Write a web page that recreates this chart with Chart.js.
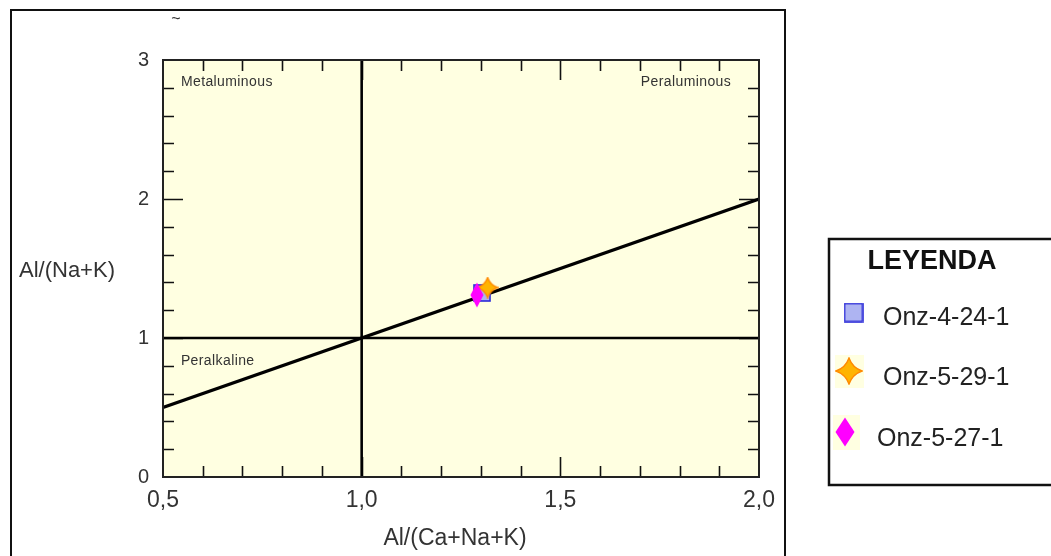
<!DOCTYPE html>
<html><head><meta charset="utf-8">
<script src="https://cdn.jsdelivr.net/npm/chart.js@4.4.1/dist/chart.umd.min.js"></script>
<style>html,body{margin:0;padding:0;background:#fff;overflow:hidden}canvas{display:block}</style>
</head><body>
<canvas id="c" width="1051" height="556"></canvas>
<script>
// ---- data ----
const seriesNames = ['Onz-4-24-1', 'Onz-5-29-1', 'Onz-5-27-1'];
const seriesX = [1.303, 1.317, 1.290];
const seriesY = [1.324, 1.363, 1.309];
const xTickValues = [0.5, 1.0, 1.5, 2.0];
const xTickLabels = ['0,5', '1,0', '1,5', '2,0'];
const yTickValues = [0, 1, 2, 3];
const yTickLabels = ['0', '1', '2', '3'];
const xMinorTicks = [0.6, 0.7, 0.8, 0.9, 1.1, 1.2, 1.3, 1.4, 1.6, 1.7, 1.8, 1.9];
const xMajorTicks = [1.0, 1.5];
const yMinorTicks = [0.2, 0.4, 0.6, 0.8, 1.2, 1.4, 1.6, 1.8, 2.2, 2.4, 2.6, 2.8];
const yMajorTicks = [1, 2];
const diagX = [0.5, 2.0], diagY = [0.5, 2.0];
const vertX = [1, 1], vertY = [0, 3];
const horizX = [0.5, 2.0], horizY = [1, 1];
const regionNames = ['Metaluminous', 'Peraluminous', 'Peralkaline'];
const xTitle = 'Al/(Ca+Na+K)';
const yTitle = 'Al/(Na+K)';
const legendTitle = 'LEYENDA';

const FONT = 'Arial, "Liberation Sans", sans-serif';

// ---- marker images ----
function mk(w, h, draw) {
  const c = document.createElement('canvas');
  c.width = w; c.height = h;
  draw(c.getContext('2d'), w, h);
  return c;
}
function squareImg(s) {
  return mk(s, s, (g, w, h) => {
    g.fillStyle = '#AEB4F2'; g.fillRect(1, 1, w - 2, h - 2);
    g.strokeStyle = '#2A2AD8'; g.lineWidth = 1.6; g.strokeRect(1, 1, w - 2, h - 2);
  });
}
function starImg(s) {
  return mk(s, s, (g, w, h) => {
    const cx = w / 2, cy = h / 2, R = w / 2 - 1, k = R * 0.26;
    g.beginPath();
    g.moveTo(cx, cy - R);
    g.quadraticCurveTo(cx + k, cy - k, cx + R, cy);
    g.quadraticCurveTo(cx + k, cy + k, cx, cy + R);
    g.quadraticCurveTo(cx - k, cy + k, cx - R, cy);
    g.quadraticCurveTo(cx - k, cy - k, cx, cy - R);
    g.closePath();
    g.fillStyle = '#FFB400'; g.fill();
    g.strokeStyle = '#FF8A00'; g.lineWidth = 1.4; g.stroke();
  });
}
function diamondImg(w0, h0) {
  return mk(w0, h0, (g, w, h) => {
    g.beginPath();
    g.moveTo(w / 2, 0.5); g.lineTo(w - 0.5, h / 2); g.lineTo(w / 2, h - 0.5); g.lineTo(0.5, h / 2);
    g.closePath();
    g.fillStyle = '#FF00FF'; g.fill();
  });
}
const plotMarkers = [squareImg(18), starImg(22), diamondImg(14, 26)];
const legendMarkers = [squareImg(20), starImg(28), diamondImg(20, 30)];

// ---- plugin for frame, ticks, texts, legend ----
const decor = {
  id: 'decor',
  beforeDraw(chart) {
    const { ctx, chartArea: a } = chart;
    ctx.save();
    ctx.fillStyle = '#FFFFE1';
    ctx.fillRect(a.left, a.top, a.right - a.left, a.bottom - a.top);
    ctx.restore();
  },
  beforeDatasetsDraw(chart) {
    const { ctx, chartArea: a, scales: { x, y } } = chart;
    ctx.save();
    ctx.strokeStyle = '#111'; ctx.lineWidth = 1.6;
    const tickX = (v, len) => {
      const px = Math.round(x.getPixelForValue(v)) + 0.5;
      ctx.beginPath();
      ctx.moveTo(px, a.bottom); ctx.lineTo(px, a.bottom - len);
      ctx.moveTo(px, a.top); ctx.lineTo(px, a.top + len);
      ctx.stroke();
    };
    const tickY = (v, len) => {
      const py = Math.round(y.getPixelForValue(v)) + 0.5;
      ctx.beginPath();
      ctx.moveTo(a.left, py); ctx.lineTo(a.left + len, py);
      ctx.moveTo(a.right, py); ctx.lineTo(a.right - len, py);
      ctx.stroke();
    };
    xMinorTicks.forEach(v => tickX(v, 11));
    xMajorTicks.forEach(v => tickX(v, 20));
    yMinorTicks.forEach(v => tickY(v, 11));
    yMajorTicks.forEach(v => tickY(v, 20));

    ctx.fillStyle = '#333';
    ctx.font = '14px ' + FONT;
    ctx.letterSpacing = '0.4px';
    ctx.textBaseline = 'middle';
    ctx.textAlign = 'left';
    ctx.fillText(regionNames[0], x.getPixelForValue(0.545), y.getPixelForValue(2.84));
    ctx.textAlign = 'right';
    ctx.fillText(regionNames[1], x.getPixelForValue(1.93), y.getPixelForValue(2.84));
    ctx.textAlign = 'left';
    ctx.fillText(regionNames[2], x.getPixelForValue(0.545), y.getPixelForValue(0.835));
    ctx.restore();
  },
  afterDatasetsDraw(chart) {
    const { ctx, chartArea: a } = chart;
    ctx.save();
    ctx.strokeStyle = '#222'; ctx.lineWidth = 2;
    ctx.strokeRect(a.left, a.top, a.right - a.left, a.bottom - a.top);
    ctx.restore();
  },
  afterDraw(chart) {
    const { ctx } = chart;
    ctx.save();
    // axis titles
    ctx.fillStyle = '#333';
    ctx.font = '23px ' + FONT;
    ctx.textBaseline = 'middle';
    ctx.textAlign = 'center';
    ctx.fillText(xTitle, 455, 539);
    ctx.font = '22px ' + FONT;
    ctx.textAlign = 'left';
    ctx.fillText(yTitle, 19, 271);
    ctx.font = '16px ' + FONT;
    ctx.textAlign = 'center';
    ctx.fillText('~', 176, 20);

    // outer frame
    ctx.strokeStyle = '#111'; ctx.lineWidth = 2;
    ctx.strokeRect(11, 10, 774, 600);

    // legend box
    ctx.lineWidth = 2.5;
    ctx.strokeRect(829, 239, 300, 246);
    ctx.fillStyle = '#111';
    ctx.font = 'bold 27px ' + FONT;
    ctx.textAlign = 'center';
    ctx.fillText(legendTitle, 932, 262);

    // legend items
    ctx.fillStyle = '#FFFFE1';
    ctx.fillRect(835, 355, 29, 33);
    ctx.fillRect(833, 415, 27, 35);
    const centers = [[853.5, 312.5], [849, 371], [845, 432]];
    const textPos = [[883, 318], [883, 378], [877, 439]];
    ctx.font = '25px ' + FONT;
    ctx.textAlign = 'left';
    ctx.fillStyle = '#222';
    seriesNames.forEach((n, i) => {
      const im = legendMarkers[i];
      ctx.drawImage(im, centers[i][0] - im.width / 2, centers[i][1] - im.height / 2);
      ctx.fillText(n, textPos[i][0], textPos[i][1]);
    });
    ctx.restore();
  }
};

const pts = (xs, ys) => xs.map((v, i) => ({ x: v, y: ys[i] }));
const lineDs = (xs, ys, w) => ({
  data: pts(xs, ys), showLine: true, borderColor: '#000', borderWidth: w,
  pointRadius: 0, pointHoverRadius: 0, fill: false, order: 10
});

new Chart(document.getElementById('c'), {
  type: 'scatter',
  data: {
    datasets: [
      lineDs(vertX, vertY, 2.6),
      lineDs(horizX, horizY, 2.6),
      lineDs(diagX, diagY, 3.2),
      ...seriesNames.map((n, i) => ({
        label: n,
        data: [{ x: seriesX[i], y: seriesY[i] }],
        pointStyle: plotMarkers[i],
        pointRadius: 10,
        order: 3 - i
      }))
    ]
  },
  options: {
    responsive: false,
    animation: false,
    devicePixelRatio: 1,
    layout: { padding: { top: 60, right: 292, left: 0, bottom: 0 } },
    plugins: { legend: { display: false }, tooltip: { enabled: false } },
    scales: {
      x: {
        type: 'linear', min: 0.5, max: 2.0,
        afterBuildTicks: s => { s.ticks = xTickValues.map(v => ({ value: v })); },
        afterFit: s => { s.height = 79; },
        grid: { display: false, drawTicks: false, tickLength: 0 },
        border: { display: false },
        ticks: {
          callback: (v, i) => xTickLabels[i],
          font: { size: 23, family: FONT }, color: '#333', padding: 10, maxRotation: 0
        }
      },
      y: {
        type: 'linear', min: 0, max: 3,
        afterBuildTicks: s => { s.ticks = yTickValues.map(v => ({ value: v })); },
        afterFit: s => { s.width = 163; },
        grid: { display: false, drawTicks: false, tickLength: 0 },
        border: { display: false },
        ticks: {
          callback: (v, i) => yTickLabels[i],
          font: { size: 20, family: FONT }, color: '#333', padding: 14
        }
      }
    }
  },
  plugins: [decor]
});
</script>
</body></html>
